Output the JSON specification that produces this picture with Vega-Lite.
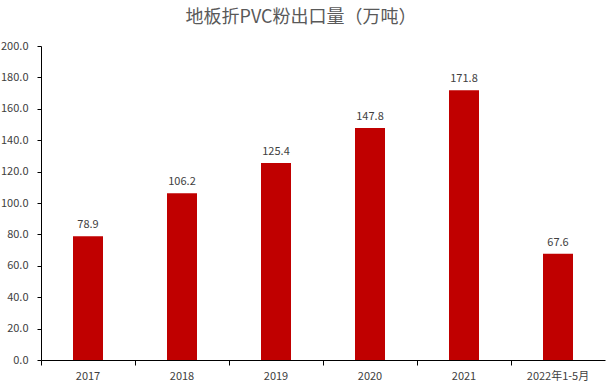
{
  "$schema": "https://vega.github.io/schema/vega-lite/v6.json",
  "autosize": {"type": "none"},
  "width": 564,
  "height": 314,
  "padding": {"left": 41, "top": 46, "right": 6, "bottom": 29},
  "background": "white",
  "title": {
    "text": "地板折PVC粉出口量（万吨）",
    "font": "Noto Sans CJK SC",
    "fontSize": 18,
    "fontWeight": "normal",
    "color": "#595959",
    "anchor": "middle",
    "dx": -22,
    "offset": 13
  },
  "config": {"view": {"stroke": null}},
  "data": {
    "values": [
      {"year": "2017", "value": 78.9},
      {"year": "2018", "value": 106.2},
      {"year": "2019", "value": 125.4},
      {"year": "2020", "value": 147.8},
      {"year": "2021", "value": 171.8},
      {"year": "2022年1-5月", "value": 67.6}
    ]
  },
  "encoding": {
    "x": {
      "field": "year",
      "type": "nominal",
      "sort": null,
      "scale": {"paddingInner": 0, "paddingOuter": 0},
      "axis": {
        "title": null,
        "labelAngle": 0,
        "labelFont": "Noto Sans CJK SC",
        "labelFontSize": 11,
        "labelColor": "#404040",
        "labelPadding": 5,
        "domainColor": "#000000",
        "tickColor": "#000000",
        "tickSize": 5,
        "bandPosition": 0,
        "grid": false
      }
    },
    "y": {
      "field": "value",
      "type": "quantitative",
      "scale": {"domain": [0, 200], "nice": false},
      "axis": {
        "title": null,
        "values": [0, 20, 40, 60, 80, 100, 120, 140, 160, 180, 200],
        "format": ".1f",
        "labelFont": "Noto Sans CJK SC",
        "labelFontSize": 11,
        "labelColor": "#404040",
        "labelPadding": 9,
        "domainColor": "#000000",
        "tickColor": "#000000",
        "tickSize": 4,
        "grid": false
      }
    }
  },
  "layer": [
    {"mark": {"type": "bar", "color": "#C00000", "width": 30}},
    {
      "mark": {
        "type": "text",
        "baseline": "bottom",
        "dy": -6,
        "font": "Noto Sans CJK SC",
        "fontSize": 11,
        "color": "#404040"
      },
      "encoding": {"text": {"field": "value", "type": "quantitative", "format": ".1f"}}
    }
  ]
}
